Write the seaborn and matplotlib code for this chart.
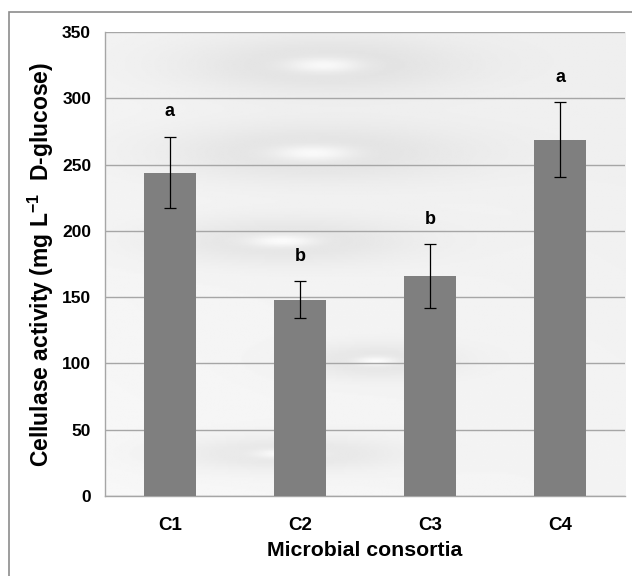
import numpy as np
import pandas as pd
import matplotlib
matplotlib.use("Agg")
import matplotlib.pyplot as plt
import matplotlib.patches as mpatches
import seaborn as sns

consortia = ["C1", "C2", "C3", "C4"]
activity = [244, 148, 166, 269]
sd = [27, 14, 24, 28]
letters = ["a", "b", "b", "a"]

BAR_C = "#7f7f7f"
GRID_C = "#a6a6a6"

sns.set_style("white")
plt.rcParams["font.family"] = ["Liberation Sans", "DejaVu Sans"]
plt.rcParams.update({
    "text.color": "black",
    "axes.labelcolor": "black",
    "xtick.color": "black",
    "ytick.color": "black",
    "mathtext.fontset": "custom",
    "mathtext.rm": "Liberation Sans",
    "mathtext.bf": "Liberation Sans:bold",
})

df = pd.DataFrame({"consortium": consortia, "activity": activity, "sd": sd})

fig = plt.figure(figsize=(6.32, 5.76), dpi=100)
ax = fig.add_axes([0.166, 0.139, 0.823, 0.805])

# textured grey background, roughly like the Excel fill
yy, xx = np.mgrid[0:1:300j, 0:1:400j]
bg = 0.935 + 0.02 * (1 - yy) + 0.015 * (1 - xx)
for cx, cy, w, h in [(0.42, 0.93, 0.22, 0.05), (0.40, 0.74, 0.24, 0.05),
                     (0.34, 0.55, 0.2, 0.04), (0.52, 0.29, 0.12, 0.03),
                     (0.35, 0.09, 0.18, 0.03)]:
    r = ((xx - cx) / w) ** 2 + ((yy - cy) / h) ** 2
    bg -= 0.07 * np.exp(-r / 1.5)
    bg += 0.1 * np.exp(-r / 0.12)
bg = np.clip(bg, 0, 1)
ax.imshow(bg, cmap="gray", vmin=0, vmax=1, extent=[0, 1, 0, 1],
          transform=ax.transAxes, aspect="auto", zorder=0, origin="lower")

sns.barplot(data=df, x="consortium", y="activity", color=BAR_C, width=0.4,
            saturation=1, errorbar=None, linewidth=0, ax=ax, zorder=3)
ax.errorbar(range(len(consortia)), df["activity"], yerr=df["sd"], fmt="none",
            ecolor="black", elinewidth=0.9, capsize=4, capthick=0.9, zorder=4)
for i, (m, s, lab) in enumerate(zip(activity, sd, letters)):
    ax.text(i, m + s + 19, lab, ha="center", va="center", fontsize=13,
            fontweight="bold", zorder=5)

ax.set_ylim(0, 350)
ax.set_xlim(-0.5, 3.5)
ax.set_yticks(np.arange(0, 351, 50))
ax.yaxis.grid(True, color=GRID_C, linewidth=1)
ax.set_axisbelow(False)
for g in ax.get_ygridlines():
    g.set_zorder(1)

for side in ["top", "right"]:
    ax.spines[side].set_visible(False)
for side in ["left", "bottom"]:
    ax.spines[side].set_color(GRID_C)
    ax.spines[side].set_linewidth(1)
    ax.spines[side].set_zorder(2)

ax.set_xticks(range(4))
ax.set_xticklabels(consortia, fontsize=13.5, fontweight="bold")
ax.tick_params(axis="x", length=0, pad=15)
ax.set_xticks(np.arange(-0.5, 4, 1), minor=True)
ax.tick_params(axis="x", which="minor", length=6, color=GRID_C, width=1, direction="out")
ax.tick_params(axis="y", length=5, color=GRID_C, width=1, direction="out", pad=5, labelsize=12.5)
for t in ax.get_yticklabels():
    t.set_fontweight("bold")

ax.set_xlabel("Microbial consortia", fontsize=15.3, fontweight="bold", labelpad=5)
ax.set_ylabel("Cellulase activity (mg L$^{\\mathbf{-1}}$  D-glucose)", fontsize=16.5,
              fontweight="bold", labelpad=4)

frame = mpatches.Rectangle((0.014, -0.2), 1.2, 1.179, transform=fig.transFigure,
                           fill=False, edgecolor="#8c8c8c", linewidth=1.2, clip_on=False)
fig.patches.append(frame)

plt.savefig("out.png", dpi=100)
plt.close()
